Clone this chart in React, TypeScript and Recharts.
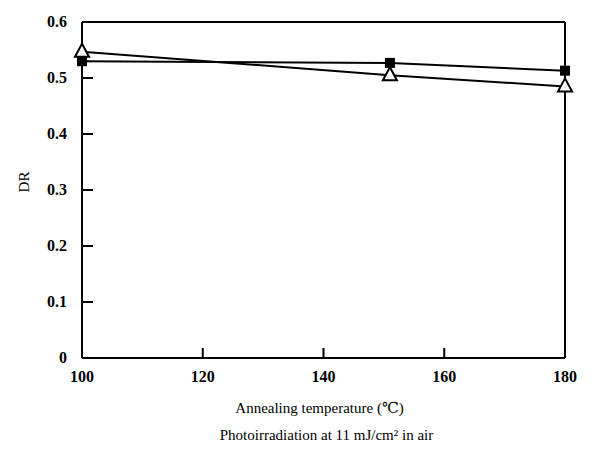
import { LineChart, Line, XAxis, YAxis, ReferenceLine } from 'recharts';

const temps = [100, 151, 180];
const squareDR = [0.53, 0.527, 0.513];
const triangleDR = [0.547, 0.505, 0.485];
const xTicks = [100, 120, 140, 160, 180];
const yTicks = [0, 0.1, 0.2, 0.3, 0.4, 0.5, 0.6];

const data = temps.map((t, i) => ({ temp: t, square: squareDR[i], triangle: triangleDR[i] }));

const SERIF = '"Liberation Serif", "DejaVu Serif", serif';
const PLOT_LEFT = 82;
const PLOT_BOTTOM = 358;

const YTick = (props: any) => {
    const { y, payload } = props;
    const v = payload.value;
    const inner = v > 0 && v < 0.6;
    return (
        <g>
            {inner && <line x1={PLOT_LEFT} y1={y} x2={PLOT_LEFT + 11} y2={y} stroke="#000" strokeWidth={2} />}
            <text x={PLOT_LEFT - 15} y={y} dy={5} textAnchor="end" style={{ fontFamily: SERIF, fontWeight: 'bold', fontSize: 16 }} fill="#000">
                {v === 0 ? '0' : v.toFixed(1)}
            </text>
        </g>
    );
};

const XTick = (props: any) => {
    const { x, payload } = props;
    const v = payload.value;
    const inner = v > 100 && v < 180;
    return (
        <g>
            {inner && <line x1={x} y1={PLOT_BOTTOM} x2={x} y2={PLOT_BOTTOM - 10} stroke="#000" strokeWidth={2} />}
            <text x={x} y={PLOT_BOTTOM + 24} textAnchor="middle" style={{ fontFamily: SERIF, fontWeight: 'bold', fontSize: 16 }} fill="#000">
                {v}
            </text>
        </g>
    );
};

const XLabel = (props: any) => {
    const { viewBox } = props;
    const cx = viewBox.x + viewBox.width / 2;
    return (
        <g style={{ fontFamily: SERIF, fontSize: 15 }} fill="#000">
            <text x={cx - 4} y={PLOT_BOTTOM + 55} textAnchor="middle">Annealing temperature (℃)</text>
            <text x={cx + 3} y={PLOT_BOTTOM + 82} textAnchor="middle">Photoirradiation at 11 mJ/cm² in air</text>
        </g>
    );
};

const YLabel = () => (
    <text
        x={24}
        y={182}
        transform="rotate(-90 24 182)"
        textAnchor="middle"
        dy={5}
        style={{ fontFamily: SERIF, fontSize: 15 }}
        fill="#000"
    >
        DR
    </text>
);

const SquareDot = (props: any) => {
    const { cx, cy, index } = props;
    return <rect key={'s' + index} x={cx - 5} y={cy - 5} width={10} height={10} fill="#000" />;
};

const TriangleDot = (props: any) => {
    const { cx, cy, index } = props;
    return (
        <polygon
            key={'t' + index}
            points={`${cx},${cy - 8} ${cx - 7},${cy + 5} ${cx + 7},${cy + 5}`}
            fill="#fff"
            stroke="#000"
            strokeWidth={2}
        />
    );
};

export default function App() {
    return (
        <div style={{ margin: -8, background: '#fff', width: 600, height: 465 }}>
            <LineChart width={600} height={465} data={data} margin={{ top: 22, right: 35, left: 28, bottom: 0 }}>
                <XAxis
                    dataKey="temp"
                    type="number"
                    domain={[100, 180]}
                    ticks={xTicks}
                    tick={<XTick />}
                    tickLine={false}
                    tickSize={0}
                    axisLine={{ stroke: '#000', strokeWidth: 2 }}
                    height={107}
                    label={<XLabel />}
                />
                <YAxis
                    type="number"
                    domain={[0, 0.6]}
                    ticks={yTicks}
                    tick={<YTick />}
                    tickLine={false}
                    tickSize={0}
                    axisLine={{ stroke: '#000', strokeWidth: 2 }}
                    width={54}
                    label={<YLabel />}
                />
                <ReferenceLine y={0.6} stroke="#000" strokeWidth={2} />
                <ReferenceLine x={180} stroke="#000" strokeWidth={2} />
                <Line dataKey="square" stroke="#000" strokeWidth={2} dot={SquareDot} isAnimationActive={false} />
                <Line dataKey="triangle" stroke="#000" strokeWidth={2} dot={TriangleDot} isAnimationActive={false} />
            </LineChart>
        </div>
    );
}
